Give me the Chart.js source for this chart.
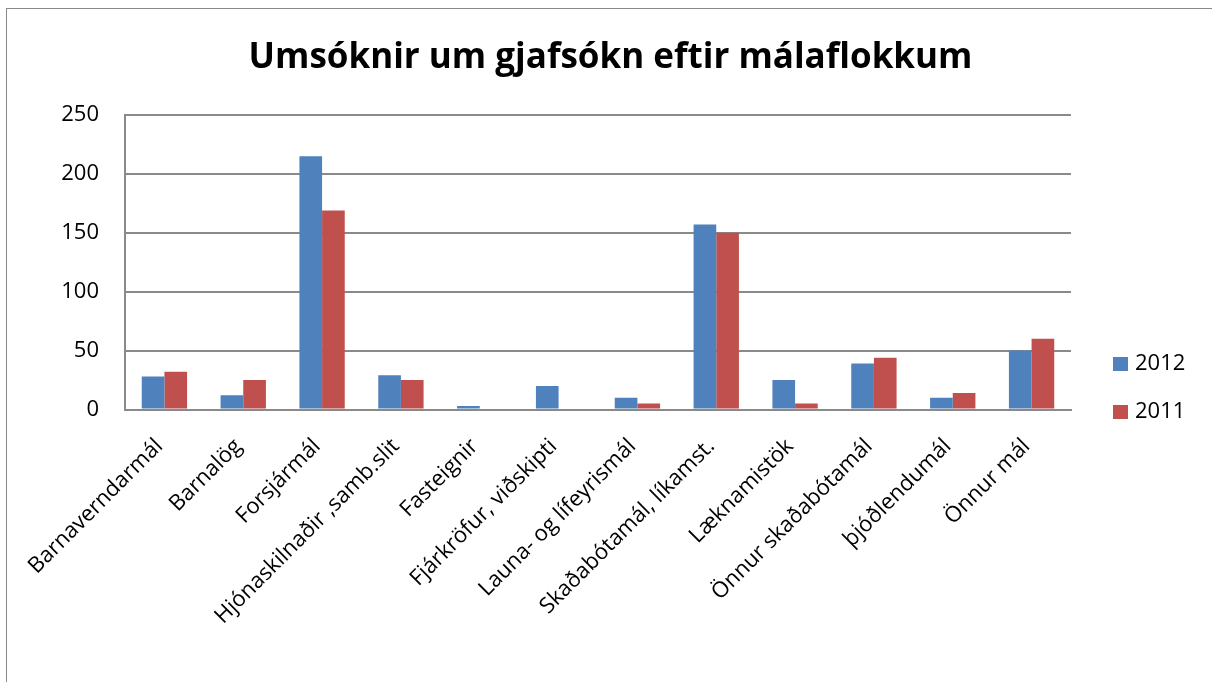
<!DOCTYPE html>
<html>
<head>
<meta charset="utf-8">
<script src="https://cdn.jsdelivr.net/npm/chart.js@4"></script>
<style>
  html, body { margin: 0; padding: 0; background: #fff; }
  #wrap { position: relative; width: 1212px; height: 682px; overflow: hidden; }
  #frame { position: absolute; left: 6px; top: 8px; width: 1300px; height: 800px; border: 1px solid #8a8a8a; box-sizing: border-box; }
  #c { position: absolute; left: 0; top: 0; }
</style>
</head>
<body>
<div id="wrap">
  <div id="frame"></div>
  <canvas id="c" width="1212" height="682"></canvas>
</div>
<script>
const titleText = 'Umsóknir um gjafsókn eftir málaflokkum';
const categories = [
  'Barnaverndarmál', 'Barnalög', 'Forsjármál', 'Hjónaskilnaðir ,samb.slit',
  'Fasteignir', 'Fjárkröfur, viðskipti', 'Launa- og lífeyrismál',
  'Skaðabótamál, líkamst.', 'Læknamistök', 'Önnur skaðabótamál',
  'þjóðlendumál', 'Önnur mál'
];
const seriesNames = ['2012', '2011'];
const values2012 = [28, 12, 215, 29, 3, 20, 10, 157, 25, 39, 10, 50];
const values2011 = [32, 25, 169, 25, 0, 0, 5, 150, 5, 44, 14, 60];
const yTicks = [0, 50, 100, 150, 200, 250];

const FONT = "'Open Sans', 'Liberation Sans', sans-serif";

const legendPlugin = {
  id: 'sideLegend',
  afterDraw(chart) {
    const ctx = chart.ctx;
    ctx.save();
    chart.data.datasets.forEach((ds, i) => {
      const y = 364 + i * 48;
      ctx.fillStyle = ds.backgroundColor;
      ctx.fillRect(1113, y - 7, 15, 14);
      ctx.fillStyle = '#000';
      ctx.font = "22px " + FONT;
      ctx.textBaseline = 'middle';
      ctx.textAlign = 'left';
      ctx.fillText(ds.label, 1135, y);
    });
    ctx.restore();
  }
};

new Chart(document.getElementById('c'), {
  type: 'bar',
  data: {
    labels: categories,
    datasets: [
      { label: seriesNames[0], data: values2012, backgroundColor: '#4F81BD' },
      { label: seriesNames[1], data: values2011, backgroundColor: '#C0504D' }
    ]
  },
  options: {
    responsive: false,
    animation: false,
    devicePixelRatio: 1,
    layout: { padding: { left: 9, right: 0, top: 0, bottom: 0 } },
    datasets: { bar: { categoryPercentage: 0.575, barPercentage: 1.0 } },
    plugins: {
      legend: { display: false },
      tooltip: { enabled: false },
      title: {
        display: true,
        text: titleText,
        color: '#000',
        font: { family: FONT, size: 35, weight: 'bold', lineHeight: 1.2 },
        padding: { top: 37, bottom: 36 }
      }
    },
    scales: {
      x: {
        grid: { display: false, drawTicks: false },
        border: { display: true, color: '#8a8a8a', width: 2 },
        ticks: {
          color: '#000',
          font: { family: FONT, size: 22 },
          minRotation: 45,
          maxRotation: 45,
          autoSkip: false,
          padding: 24,
          labelOffset: -5
        },
        afterFit(scale) { scale.height = 272.5; }
      },
      y: {
        min: 0,
        max: 250,
        afterBuildTicks(scale) { scale.ticks = yTicks.map(v => ({ value: v })); },
        grid: { color: '#8a8a8a', lineWidth: 2, drawTicks: false },
        border: { display: true, color: '#8a8a8a', width: 2 },
        ticks: {
          color: '#000',
          font: { family: FONT, size: 22 },
          padding: 26
        },
        afterFit(scale) { scale.width = 116; }
      },
      ySpace: {
        position: 'right',
        min: 0,
        max: 250,
        grid: { display: false, drawOnChartArea: false, drawTicks: false },
        border: { display: false },
        ticks: { display: false },
        afterFit(scale) { scale.width = 141; }
      }
    }
  },
  plugins: [legendPlugin]
});
</script>
</body>
</html>
